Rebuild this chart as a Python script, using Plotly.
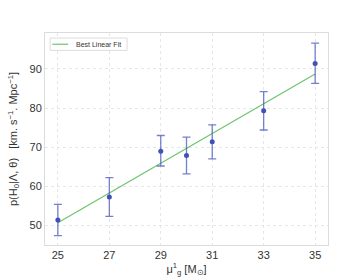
import plotly.graph_objects as go

mass = [25, 27, 29, 30, 31, 33, 35]
h0 = [51.4, 57.3, 69.0, 67.9, 71.4, 79.3, 91.4]
err_plus = [4.0, 4.9, 4.0, 4.7, 4.3, 4.9, 5.2]
err_minus = [4.0, 5.0, 3.8, 4.7, 4.4, 4.9, 5.1]
fit_x = [25, 35]
fit_y = [50.7, 88.7]
x_ticks = [25, 27, 29, 31, 33, 35]
y_ticks = [50, 60, 70, 80, 90]
legend_label = "Best Linear Fit"

FONT = "Liberation Sans, Arial, sans-serif"
GREEN = "#6cc46c"

fig = go.Figure()
fig.add_trace(go.Scatter(
    x=fit_x, y=fit_y, mode="lines", name=legend_label, showlegend=False,
    line=dict(color=GREEN, width=1.2)))
fig.add_trace(go.Scatter(
    x=mass, y=h0, mode="markers", showlegend=False,
    marker=dict(color="#3f51b5", size=5),
    error_y=dict(type="data", symmetric=False, array=err_plus, arrayminus=err_minus,
                 color="rgba(63,81,181,0.72)", thickness=1.3, width=4)))

axis_common = dict(showline=True, linecolor="#dcdcdc", linewidth=1, mirror=True,
                   showgrid=True, gridcolor="#e6e6e6", griddash="dot", gridwidth=0.9,
                   zeroline=False, ticks="", automargin=False,
                   tickfont=dict(size=11, color="#333333", family=FONT))

# manual legend box (paper coordinates)
fig.add_shape(type="rect", xref="paper", yref="paper", x0=0.018, x1=0.29, y0=0.918, y1=0.976,
              line=dict(color="#dcdcdc", width=1), fillcolor="white", layer="above")
fig.add_shape(type="line", xref="paper", yref="paper", x0=0.026, x1=0.082, y0=0.947, y1=0.947,
              line=dict(color=GREEN, width=1.2), layer="above")
fig.add_annotation(xref="paper", yref="paper", x=0.102, y=0.947, xanchor="left", yanchor="middle",
                   text=legend_label, showarrow=False, font=dict(size=7, color="#333333", family=FONT))

fig.update_layout(
    width=364, height=280,
    paper_bgcolor="white", plot_bgcolor="white",
    margin=dict(l=45, r=36, t=33, b=35),
    font=dict(family=FONT, color="#333333"),
    showlegend=False,
)
fig.update_xaxes(range=[24.5, 35.5], tickvals=x_ticks,
                 title=dict(text="μ<sup>1</sup><sub>g</sub> [M<sub>⊙</sub>]", font=dict(size=11), standoff=3),
                 **axis_common)
fig.update_yaxes(range=[45, 99.2], tickvals=y_ticks,
                 title=dict(text="p(H<sub>0</sub>|Λ, θ)   [km. s<sup>−1</sup>. Mpc<sup>−1</sup>]", font=dict(size=11), standoff=9),
                 **axis_common)

fig.write_html("out.html", config={"displayModeBar": False},
               post_script="document.body.style.margin='0';document.body.style.overflow='hidden';")
